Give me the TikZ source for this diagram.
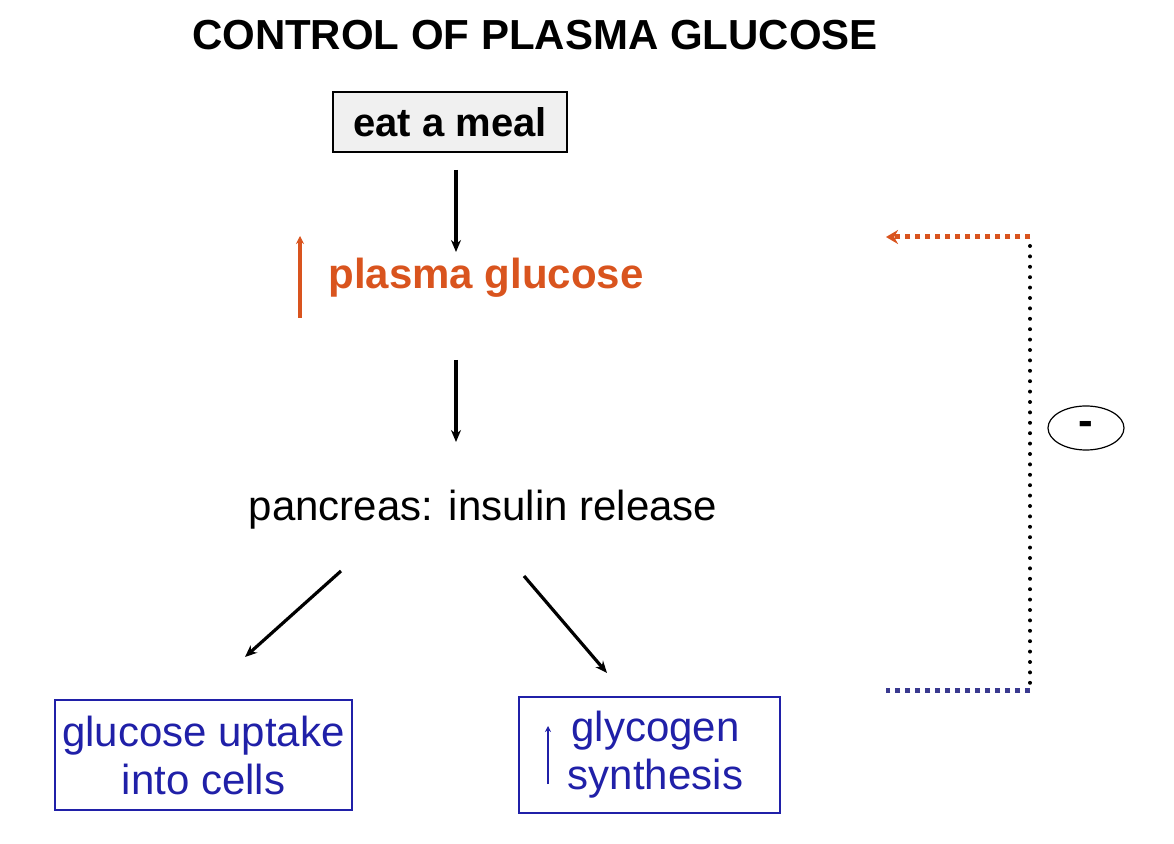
\documentclass[tikz,border=0pt]{standalone}
\usepackage{fontspec}
\setmainfont{Liberation Sans}
\usetikzlibrary{shapes.geometric,arrows.meta}
\definecolor{org}{HTML}{D9541E}
\definecolor{blu}{HTML}{2020A8}
\definecolor{fbblu}{HTML}{3A3A90}
\begin{document}
\begin{tikzpicture}[x=0.5pt,y=-0.5pt,
  arr/.style={-{Stealth[length=6pt,width=5pt]},line width=1.6pt},
  bbox/.style={draw=blu,line width=0.6pt,text=blu,font=\fontsize{21}{24}\selectfont,align=center,inner sep=0pt}]
\useasboundingbox (0,0) rectangle (1174,844);
\node (title) at (535,35) {\fontsize{21}{24}\selectfont\bfseries CONTROL OF PLASMA GLUCOSE};
\node[draw,fill=gray!12,line width=0.6pt,minimum width=117pt,minimum height=30pt,font=\fontsize{20}{22}\selectfont\bfseries] (meal) at (450,122) {eat a meal};
\node[text=org,font=\fontsize{21}{24}\selectfont\bfseries,anchor=west,inner sep=0pt] (pg) at (328,278) {plasma glucose};
\coordinate (oa1) at (300,318); \coordinate (oa2) at (300,236);
\draw[-{Stealth[length=4pt,width=4pt]},org,line width=1.8pt] (oa1) -- (oa2);
\coordinate (a1) at (456,170); \coordinate (a2) at (456,252);
\draw[arr] (a1) -- (a2);
\coordinate (b1) at (456,360); \coordinate (b2) at (456,442);
\draw[arr] (b1) -- (b2);
\node[font=\fontsize{21}{24}\selectfont] (pan) at (483,510) {pancreas: insulin release};
\node[bbox,minimum width=148.5pt,minimum height=55pt] (up) at (203.5,755) {glucose uptake\\ into cells};
\node[bbox,minimum width=130.5pt,minimum height=58pt] (gly) at (649.5,755) {\hspace{6pt}glycogen\\ \hspace{6pt}synthesis};
\coordinate (c1) at (341,571); \coordinate (c2) at (245,657);
\coordinate (d1) at (524,576); \coordinate (d2) at (607,673);
\draw[arr] (c1) -- (c2);
\draw[arr] (d1) -- (d2);
\coordinate (ba1) at (548,784); \coordinate (ba2) at (548,726);
\draw[-{Stealth[length=3pt,width=3pt]},blu,line width=1.2pt] (ba1) -- (ba2);
\coordinate (f1) at (1030,237); \coordinate (f2) at (886,237);
\coordinate (f3) at (1030,691); \coordinate (f4) at (886,691);
\draw[org,line width=2.5pt,dash pattern=on 2.5pt off 2.5pt,-{Stealth[length=6pt,width=7pt]}] (f1) -- (f2);
\draw[black,line width=2pt,line cap=round,dash pattern=on 0pt off 5.2pt] (1030,246) -- (1030,686);
\draw[fbblu,line width=2.5pt,dash pattern=on 2.5pt off 2.5pt] (f3) -- (f4);
\node[draw,ellipse,line width=0.6pt,minimum width=38pt,minimum height=22pt,inner sep=0pt,font=\fontsize{22}{22}\selectfont\bfseries] (neg) at (1086,428) {-};
\end{tikzpicture}
\end{document}
